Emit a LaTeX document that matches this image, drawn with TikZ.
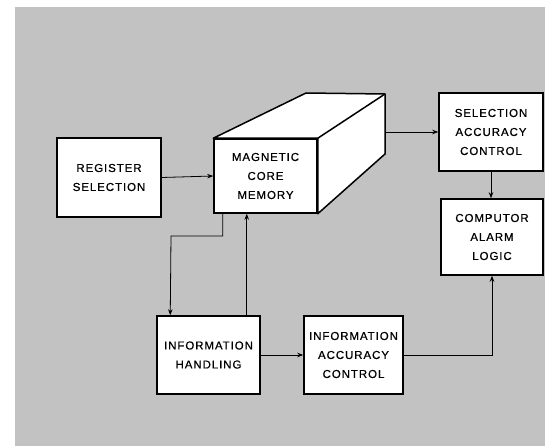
\documentclass[tikz,border=0pt]{standalone}
\usepackage{fontspec}
\usetikzlibrary{positioning,arrows.meta}
\newfontfamily\boxfont[LetterSpace=8,FakeBold=0.6]{Liberation Sans}
\definecolor{paper}{gray}{0.76}

\tikzset{
  block/.style={draw,line width=1.5pt,fill=white,align=center,inner sep=0pt,
    font=\boxfont\fontsize{11.5}{19}\selectfont},
  flow/.style={->,line width=.8pt}
}

\begin{document}
\begin{tikzpicture}[x=1pt,y=-1pt,>={Stealth[length=6pt,width=4.5pt]}]
\useasboundingbox (0,0) rectangle (545,446);
\fill[paper] (15,7) rectangle (545,446);
% boxes
\node[block,minimum width=104pt,minimum height=79pt] (regsel) at (109,177.5) {REGISTER\\SELECTION};
\node[block,minimum width=103pt,minimum height=74pt] (memory) at (265.5,176) {MAGNETIC\\CORE\\MEMORY};
\node[block,minimum width=104pt,minimum height=78pt] (selacc) at (491,132) {SELECTION\\ACCURACY\\CONTROL};
\node[block,minimum width=102pt,minimum height=76pt] (alarm) at (492,237) {COMPUTOR\\ALARM\\LOGIC};
\node[block,minimum width=103pt,minimum height=78pt] (handling) at (208.5,355) {INFORMATION\\HANDLING};
\node[block,minimum width=99pt,minimum height=78pt] (infacc) at (353.5,355) {INFORMATION\\ACCURACY\\CONTROL};
% core memory drawn as a block
\draw[line width=1.5pt,line join=round,fill=white] (memory.north west) -- (306,93) -- (385,94) -- (385,154)
  -- (memory.south east) -- (memory.north east) -- cycle;
\draw[line width=1.5pt] (memory.north east) -- (385,94);
\coordinate (memside) at (385,132);
% connectors
\draw[flow] (regsel.east) -- (memory.west);
\draw[flow] (memside) -- (selacc.west);
\draw[flow] (selacc.south) -- (selacc.south |- alarm.north);
\draw[flow] (infacc.east) -| (alarm.south);
\draw[flow] (handling.east) -- (infacc.west);
\draw[flow] ([xshift=9.5pt]memory.south west) |- (171,236) -- ([xshift=14pt]handling.north west);
\draw[flow] ([xshift=-14pt]handling.north east) -- ([xshift=-14pt]handling.north east |- memory.south);
\end{tikzpicture}
\end{document}
